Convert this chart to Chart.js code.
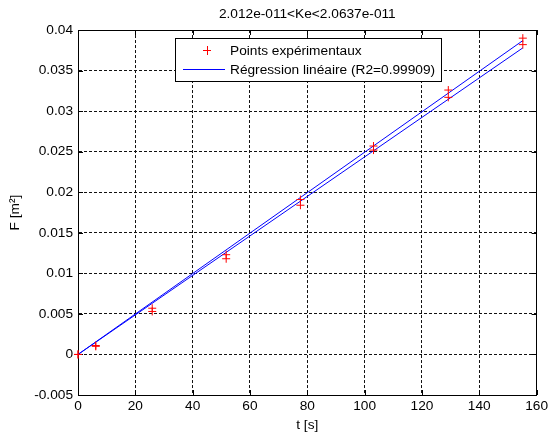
<!DOCTYPE html>
<html>
<head>
<meta charset="utf-8">
<script src="https://cdn.jsdelivr.net/npm/chart.js@4/dist/chart.umd.min.js"></script>
<style>
html, body { margin: 0; padding: 0; background: #fff; }
</style>
</head>
<body>
<canvas id="myChart" width="551" height="434"></canvas>
<script>
const titre = "2.012e-011<Ke<2.0637e-011";
const temps = [0, 6.2, 25.9, 51.7, 77.6, 103.1, 129.2, 155.2];
const surfaceHaut = [0, 0.0011, 0.0057, 0.0123, 0.0191, 0.0257, 0.0326, 0.0390];
const surfaceBas = [0, 0.0010, 0.0053, 0.0118, 0.0184, 0.0252, 0.0317, 0.0382];
const tempsRegression = [0, 155.2];
const regressionHaut = [0, 0.0387];
const regressionBas = [0, 0.0378];
const xTicks = [0, 20, 40, 60, 80, 100, 120, 140, 160];
const yTicks = [-0.005, 0, 0.005, 0.01, 0.015, 0.02, 0.025, 0.03, 0.035, 0.04];
const yLabels = ["-0.005", "0", "0.005", "0.01", "0.015", "0.02", "0.025", "0.03", "0.035", "0.04"];

const police = "'Liberation Sans', Arial, sans-serif";
const taille = 13.7;

function points(xs, ys) {
    return xs.map((x, i) => ({x: x, y: ys[i]}));
}

// cadre noir + petits traits de graduation vers l'intérieur
const cadre = {
    id: 'cadre',
    beforeDatasetsDraw(chart) {
        const {ctx, chartArea: a, scales} = chart;
        ctx.save();
        ctx.strokeStyle = '#000';
        ctx.lineWidth = 1;
        ctx.setLineDash([]);
        ctx.strokeRect(Math.round(a.left) + 0.5, Math.round(a.top) + 0.5,
            Math.round(a.right - a.left) - 1, Math.round(a.bottom - a.top));
        ctx.beginPath();
        xTicks.forEach(v => {
            const px = Math.round(scales.x.getPixelForValue(v)) + 0.5;
            ctx.moveTo(px, a.bottom); ctx.lineTo(px, a.bottom - 5);
            ctx.moveTo(px, a.top); ctx.lineTo(px, a.top + 5);
        });
        yTicks.forEach(v => {
            const py = Math.round(scales.y.getPixelForValue(v)) + 0.5;
            ctx.moveTo(a.left, py); ctx.lineTo(a.left + 5, py);
            ctx.moveTo(a.right, py); ctx.lineTo(a.right - 5, py);
        });
        ctx.stroke();
        ctx.restore();
    }
};

// légende façon matlab dans le graphique
const legende = {
    id: 'legende',
    afterDatasetsDraw(chart) {
        const ctx = chart.ctx;
        const ds = chart.data.datasets;
        const x0 = 175.5, y0 = 38.5, w = 266, h = 43;
        ctx.save();
        ctx.fillStyle = '#fff';
        ctx.fillRect(x0, y0, w, h);
        ctx.strokeStyle = '#000';
        ctx.lineWidth = 1;
        ctx.strokeRect(x0, y0, w, h);
        // croix rouge
        ctx.strokeStyle = 'rgb(255,0,0)';
        ctx.beginPath();
        ctx.moveTo(203, 50.5); ctx.lineTo(211, 50.5);
        ctx.moveTo(207.5, 46); ctx.lineTo(207.5, 55);
        ctx.stroke();
        // trait bleu
        ctx.strokeStyle = 'rgb(0,0,255)';
        ctx.beginPath();
        ctx.moveTo(183, 69.5); ctx.lineTo(225, 69.5);
        ctx.stroke();
        ctx.fillStyle = '#000';
        ctx.font = taille + "px " + police;
        ctx.textBaseline = 'middle';
        ctx.fillText(ds[0].label, 230, 51);
        ctx.fillText(ds[2].label, 230, 70);
        ctx.restore();
    }
};

const ctx = document.getElementById('myChart').getContext('2d');
const myChart = new Chart(ctx, {
    type: 'scatter',
    data: {
        datasets: [
            {
                label: 'Points expérimentaux',
                data: points(temps, surfaceHaut),
                pointStyle: 'cross',
                radius: 4,
                borderColor: 'rgb(255,0,0)',
                backgroundColor: 'rgb(255,0,0)',
                borderWidth: 1,
                clip: false
            },
            {
                label: 'Points expérimentaux (2)',
                data: points(temps, surfaceBas),
                pointStyle: 'cross',
                radius: 4,
                borderColor: 'rgb(255,0,0)',
                backgroundColor: 'rgb(255,0,0)',
                borderWidth: 1,
                clip: false
            },
            {
                label: 'Régression linéaire (R2=0.99909)',
                data: points(tempsRegression, regressionHaut),
                showLine: true,
                borderColor: 'rgb(0,0,255)',
                borderWidth: 1,
                pointRadius: 0
            },
            {
                label: 'Régression linéaire (2)',
                data: points(tempsRegression, regressionBas),
                showLine: true,
                borderColor: 'rgb(0,0,255)',
                borderWidth: 1,
                pointRadius: 0
            }
        ]
    },
    options: {
        responsive: false,
        animation: false,
        layout: {padding: {left: 0, right: 12, top: 0, bottom: 0}},
        plugins: {
            legend: {display: false},
            tooltip: {enabled: false},
            title: {
                display: true,
                text: titre,
                fullSize: false,
                color: '#000',
                font: {family: police, size: taille, weight: 'normal'},
                padding: {top: 6, bottom: 7.6}
            }
        },
        scales: {
            x: {
                type: 'linear',
                min: 0,
                max: 160,
                afterBuildTicks: s => { s.ticks = xTicks.map(v => ({value: v})); },
                afterFit: s => { s.height = 39; },
                grid: {color: '#111', lineWidth: 1, drawTicks: false},
                border: {display: true, color: '#000', dash: [3, 2]},
                ticks: {color: '#000', padding: 3, font: {family: police, size: taille}, maxRotation: 0},
                title: {display: true, text: 't [s]', color: '#000', font: {family: police, size: taille}, padding: {top: 0, bottom: 1}}
            },
            y: {
                type: 'linear',
                min: -0.005,
                max: 0.04,
                afterBuildTicks: s => { s.ticks = yTicks.map(v => ({value: v})); },
                afterFit: s => { s.width = 78; },
                grid: {color: '#111', lineWidth: 1, drawTicks: false},
                border: {display: true, color: '#000', dash: [3, 2]},
                ticks: {
                    color: '#000',
                    padding: 5,
                    font: {family: police, size: taille},
                    callback: (v, i) => yLabels[i]
                },
                title: {display: true, text: 'F [m²]', color: '#000', font: {family: police, size: taille}, padding: {top: 7, bottom: 0}}
            }
        }
    },
    plugins: [cadre, legende]
});
</script>
</body>
</html>
